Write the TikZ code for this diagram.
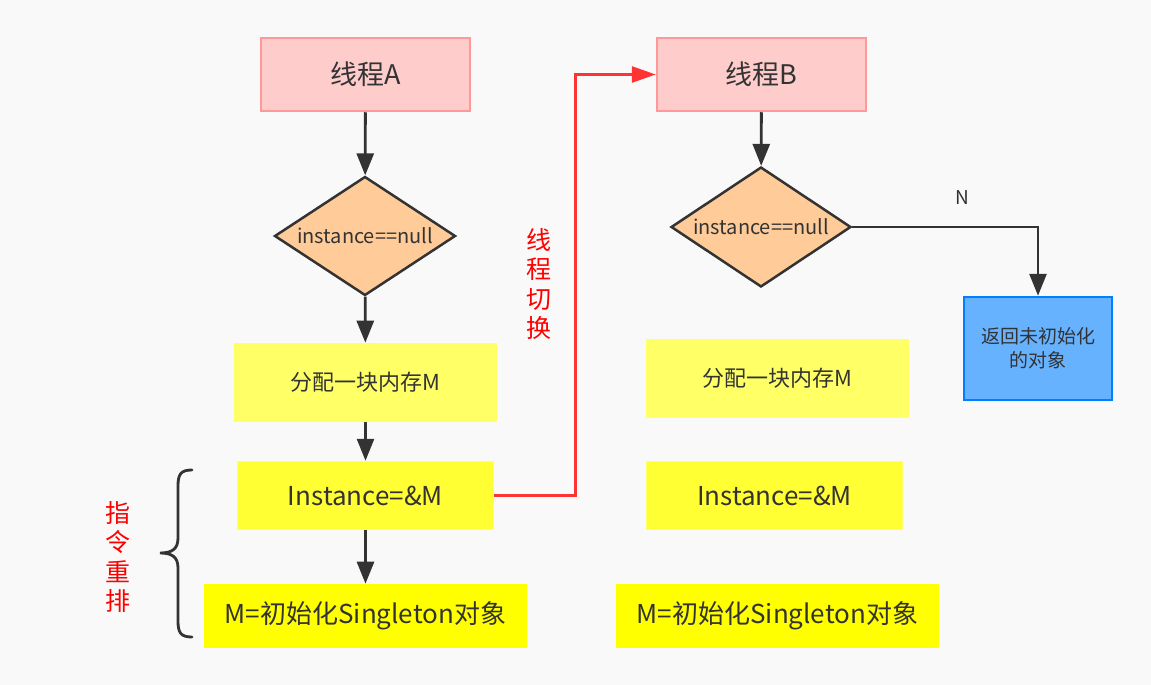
\documentclass[tikz,border=0pt]{standalone}
\usepackage{fontspec}
\setmainfont{Noto Sans CJK SC}
\usepackage{xcolor}
\usepackage{tikz}
\usetikzlibrary{arrows.meta,shapes.geometric}
\usetikzlibrary{calc}
\usetikzlibrary{positioning}

\definecolor{bgcol}{HTML}{F9F9F9}
\definecolor{darkline}{HTML}{333333}
\definecolor{thrfill}{HTML}{FFCCCC}
\definecolor{thrdraw}{HTML}{FF9999}
\definecolor{decfill}{HTML}{FFCC99}
\definecolor{allocfill}{HTML}{FFFF66}
\definecolor{assignfill}{HTML}{FFFF33}
\definecolor{initfill}{HTML}{FFFF00}
\definecolor{retfill}{HTML}{66B2FF}
\definecolor{retdraw}{HTML}{007FFF}
\definecolor{switchred}{HTML}{FF3333}

\begin{document}
\begin{tikzpicture}[x=1pt,y=-1pt,semithick,text=darkline]
  \tikzstyle{thread}=[draw=thrdraw, fill=thrfill, line width=2.5pt, inner sep=0pt,
                      minimum width=209pt, minimum height=73pt, font=\fontsize{27}{31}\selectfont]
  \tikzstyle{check}=[diamond, aspect=1.5, draw=darkline, fill=decfill, line width=2.5pt, inner sep=0pt,
                     font=\fontsize{20}{23}\selectfont]
  \tikzstyle{alloc}=[fill=allocfill, inner sep=0pt, minimum width=263pt, minimum height=79pt,
                     font=\fontsize{22}{26}\selectfont]
  \tikzstyle{assign}=[draw=allocfill, line width=1.5pt, fill=assignfill, inner sep=0pt, minimum width=256pt,
                      minimum height=68pt, font=\fontsize{26}{30}\selectfont]
  \tikzstyle{init}=[fill=initfill, inner sep=0pt, minimum width=323pt, minimum height=64pt,
                    font=\fontsize{26}{30}\selectfont]
  \tikzstyle{flow}=[draw=darkline, line width=2.8pt, -{Triangle[length=22pt,width=17pt]}]
  \tikzstyle{vlabel}=[text=red, align=center, font=\fontsize{25}{29.5}\selectfont]

  % canvas
  \fill[bgcol] (0,0) rectangle (1151,685);
  \useasboundingbox (0,0) rectangle (1151,685);

  % thread A
  \node[thread] (tA)   at (365.5,74.5) {线程A};
  \node[check, minimum width=181pt, minimum height=119pt] (cA) at (365,236) {instance==null};
  \node[alloc]  (mA)   at (365.5,382.5) {分配一块内存M};
  \node[assign] (iA)   at (365.5,495.5) {Instance=\&M};
  \node[init]   (nA)   at (365.5,616) {M=初始化Singleton对象};

  % thread B
  \node[thread] (tB)   at (761.5,74.5) {线程B};
  \node[check, minimum width=180pt, minimum height=120pt] (cB) at (761,227) {instance==null};
  \node[alloc]  (mB)   at (777.5,378) {分配一块内存M};
  \node[assign] (iB)   at (774.5,495.5) {Instance=\&M};
  \node[init]   (nB)   at (777.5,616) {M=初始化Singleton对象};
  \node[draw=retdraw, fill=retfill, line width=2.5pt, minimum width=148pt, minimum height=103pt,
        align=center, font=\fontsize{19}{24}\selectfont] (ret) at (1038,348.5) {返回未初始化\\的对象};

  % labels
  \node[vlabel] (swl) at (539,284) {线\\程\\切\\换};
  \node[vlabel] (rol) at (118,557) {指\\令\\重\\排};
  \node[font=\fontsize{19}{22}\selectfont] (nl) at (962,198) {N};

  % arrows
  \draw[flow] (tA) -- (cA);
  \draw[flow] (cA) -- (mA);
  \draw[flow] (mA) -- (iA);
  \draw[flow] (iA) -- (nA);
  \draw[flow] (tB) -- (cB);
  \draw[flow] (cB.east) -| (ret.north);
  \draw[switchred, line width=2.8pt, -{Triangle[length=24pt,width=16pt]}]
        (iA.east) -- ++(81,0) |- (tB.west);

  % brace
  \draw[darkline, line width=2.8pt, line cap=round]
        (192,470) .. controls (181,470) and (178,474) .. (178,486)
        -- (178,538) .. controls (178,549) and (172,553) .. (160,553)
        .. controls (172,553) and (178,557) .. (178,568)
        -- (178,621) .. controls (178,633) and (181,637) .. (192,637);
\end{tikzpicture}
\end{document}
